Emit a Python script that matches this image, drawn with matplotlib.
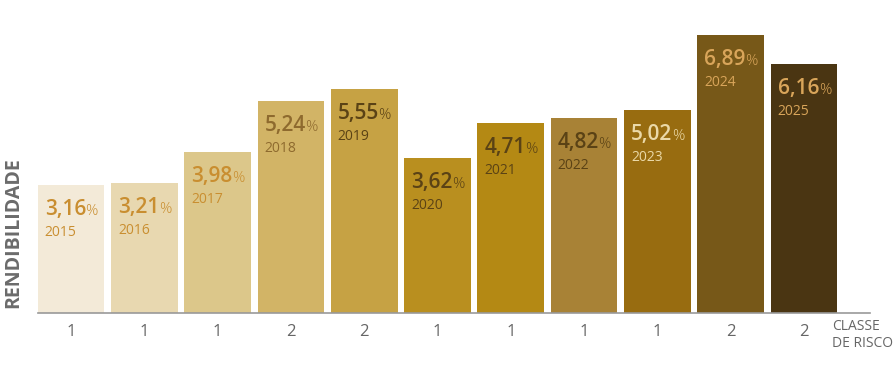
import matplotlib
matplotlib.use("Agg")
import matplotlib.pyplot as plt

# dados
anos = ["2015", "2016", "2017", "2018", "2019", "2020", "2021", "2022", "2023", "2024", "2025"]
rendibilidade = [3.16, 3.21, 3.98, 5.24, 5.55, 3.62, 4.71, 4.82, 5.02, 6.89, 6.16]
# altura desenhada no original (a barra de 2020 aparece mais alta que o valor)
altura_barra = [3.16, 3.21, 3.98, 5.24, 5.55, 3.84, 4.71, 4.82, 5.02, 6.89, 6.16]
classe_risco = ["1", "1", "1", "2", "2", "1", "1", "1", "1", "2", "2"]

cores_barra = ["#F3EAD8", "#E8D8B0", "#DCC78A", "#D2B466", "#C6A244", "#B98F1F",
               "#B48914", "#A88236", "#986C10", "#775818", "#4A3512"]
cores_texto = ["#C98E30", "#C98E30", "#C98E30", "#8E6A2E", "#5A4215", "#5A4215",
               "#5A4215", "#5A4215", "#EBD9A8", "#D9A55A", "#D9A55A"]

FONTE = "Open Sans"
CINZA = "#666666"

fig = plt.figure(figsize=(8.94, 3.8), dpi=100)
ax = fig.add_axes([38 / 894, 67 / 380, 832 / 894, 299 / 380])

x = list(range(len(anos)))
ax.bar(x, altura_barra, width=0.91, color=cores_barra, edgecolor="none")

ax.set_xlim(-0.45, 10.9)
ax.set_ylim(0, 7.4)
for s in ["top", "right", "left"]:
    ax.spines[s].set_visible(False)
ax.spines["bottom"].set_color("#999999")
ax.spines["bottom"].set_linewidth(1.2)
ax.set_yticks([])
ax.set_xticks(x)
ax.set_xticklabels(classe_risco, fontsize=12, color=CINZA, family=FONTE)
ax.tick_params(axis="x", length=0, pad=8)

fig.canvas.draw()
renderer = fig.canvas.get_renderer()

for i, (h, v, ano) in enumerate(zip(altura_barra, rendibilidade, anos)):
    esq = i - 0.455
    t = ax.annotate(f"{v:.2f}".replace(".", ","), (esq, h), xytext=(7, -30),
                    textcoords="offset pixels", fontsize=15, fontweight="semibold",
                    color=cores_texto[i], family=FONTE, va="baseline", ha="left")
    bb = t.get_window_extent(renderer)
    dx = bb.x1 - ax.transData.transform((esq, h))[0] - 0.5
    ax.annotate("%", (esq, h), xytext=(dx, -30), textcoords="offset pixels",
                fontsize=11, fontweight="light", color=cores_texto[i], family=FONTE,
                va="baseline", ha="left")
    ax.annotate(ano, (esq, h), xytext=(7, -51), textcoords="offset pixels",
                fontsize=10, color=cores_texto[i], family=FONTE,
                va="baseline", ha="left")

fig.text(13 / 894, 1 - 308 / 380, "RENDIBILIDADE", rotation=90, fontsize=14,
         fontweight="bold", color="#6B6B6B", family=FONTE, ha="center", va="bottom")
fig.text(832 / 894, 1 - 319 / 380, "CLASSE\nDE RISCO", fontsize=10, color=CINZA,
         family=FONTE, ha="left", va="top", linespacing=1.15)

fig.savefig("out.png", dpi=100)
